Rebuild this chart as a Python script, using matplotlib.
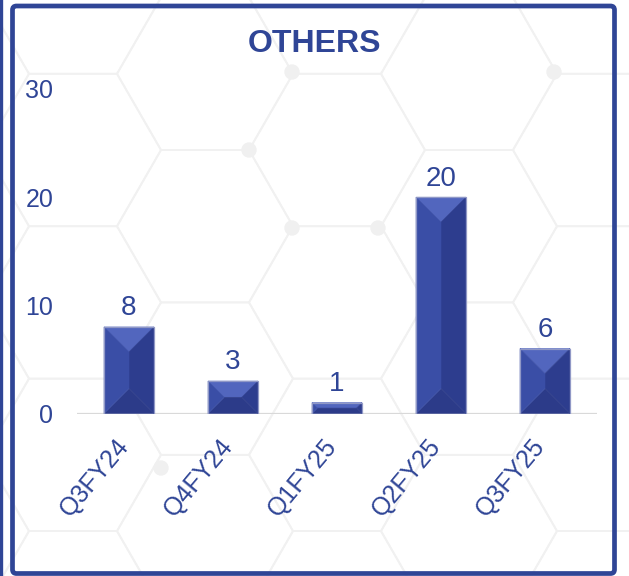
import numpy as np
import matplotlib
matplotlib.use("Agg")
import matplotlib.pyplot as plt
from matplotlib.patches import Polygon, FancyBboxPatch, Circle
from matplotlib.transforms import ScaledTranslation

plt.rcParams["font.family"] = ["Liberation Sans", "DejaVu Sans"]

# Data
quarters = ["Q3FY24", "Q4FY24", "Q1FY25", "Q2FY25", "Q3FY25"]
others = [8, 3, 1, 20, 6]
y_ticks = [0, 10, 20, 30]

NAVY = "#2F4596"
W, H = 629, 576

fig = plt.figure(figsize=(W / 100, H / 100), dpi=100)
fig.patch.set_facecolor("white")

# Background layer in pixel units (y pointing down)
bg = fig.add_axes([0, 0, 1, 1], zorder=0)
bg.set_xlim(0, W)
bg.set_ylim(H, 0)
bg.axis("off")

# faint honeycomb texture
side = 88
hh = side * np.sqrt(3) / 2
for col in range(-3, 8):
    cx = 337 + 1.5 * side * col
    for row in range(-3, 6):
        cy = 150 + 2 * hh * row + (hh if col % 2 else 0)
        ang = np.radians(np.arange(0, 361, 60))
        bg.plot(cx + side * np.cos(ang), cy + side * np.sin(ang),
                color="#f1f1f1", lw=1.3, zorder=0, solid_capstyle="round")

for (dx_, dy_) in [(292, 72), (249, 150), (292, 228), (554, 72), (161, 468), (378, 228)]:
    bg.add_patch(Circle((dx_, dy_), 7, color="#f0f0f0", zorder=0.5))

# panel frame plus the edge of the neighbouring panel
bg.add_patch(FancyBboxPatch((12.5, 6), 602, 567.5,
                            boxstyle="round,pad=0,rounding_size=4",
                            fill=False, ec=NAVY, lw=3.4, zorder=5))
bg.plot([1.2, 1.2], [0, H], color=NAVY, lw=2.4, zorder=5)

fig.text(0.5, 1 - 44 / H, "OTHERS", ha="center", va="center",
         fontsize=23, fontweight="bold", color=NAVY)

# Chart axes
left, right, bottom, top = 77, 597, 413.5, 89
ax = fig.add_axes([left / W, 1 - bottom / H, (right - left) / W, (bottom - top) / H],
                  zorder=2)
ax.patch.set_alpha(0)
ax.set_xlim(-0.5, len(quarters) - 0.5)
ax.set_ylim(0, 30)
for s in ax.spines.values():
    s.set_visible(False)
ax.axhline(0, color="#d9d9d9", lw=1.6, zorder=1)

ax.set_yticks(y_ticks)
ax.set_yticklabels([str(t) for t in y_ticks], fontsize=18, color=NAVY)
ax.set_xticks(range(len(quarters)))
ax.set_xticklabels(quarters, rotation=50, ha="right", va="top",
                   fontsize=18, color=NAVY)
ax.tick_params(axis="y", length=0, pad=17)
ax.tick_params(axis="x", length=0, pad=15)
# nudge the slanted labels a little to the right of each bar centre
shift = ScaledTranslation(5 / 100, 0, fig.dpi_scale_trans)
for lbl in ax.get_xticklabels():
    lbl.set_transform(lbl.get_transform() + shift)

# Bevelled bars
bar_w = 0.48
fig.canvas.draw()
px_x = ax.transData.transform((1, 0))[0] - ax.transData.transform((0, 0))[0]
px_y = ax.transData.transform((0, 1))[1] - ax.transData.transform((0, 0))[1]

face_top = "#5266BE"
face_left = "#3A4EA6"
face_right = "#2D3D8E"
face_bottom = "#2C3B89"

for i, v in enumerate(others):
    L, R, B, T = i - bar_w / 2, i + bar_w / 2, 0, v
    depth = min(bar_w * px_x, v * px_y) / 2
    dx, dy = depth / px_x, depth / px_y
    a = (L + dx, T - dy)
    b = (R - dx, T - dy)
    c = (R - dx, B + dy)
    d = (L + dx, B + dy)
    panels = [
        ([(L, T), (R, T), b, a], face_top),
        ([(R, T), (R, B), c, b], face_right),
        ([(R, B), (L, B), d, c], face_bottom),
        ([(L, B), (L, T), a, d], face_left),
    ]
    for pts, col in panels:
        ax.add_patch(Polygon(pts, closed=True, fc=col, ec=col, lw=0.4, zorder=3))
    ax.add_patch(Polygon([(L, B), (L, T), (R, T), (R, B)], closed=True,
                         fill=False, ec="#9098c6", lw=0.9, zorder=4))
    ax.annotate(str(v), (i, v), xytext=(0, 4), textcoords="offset points",
                ha="center", va="bottom", fontsize=20, color=NAVY, zorder=5)

fig.savefig("out.png", dpi=100)
